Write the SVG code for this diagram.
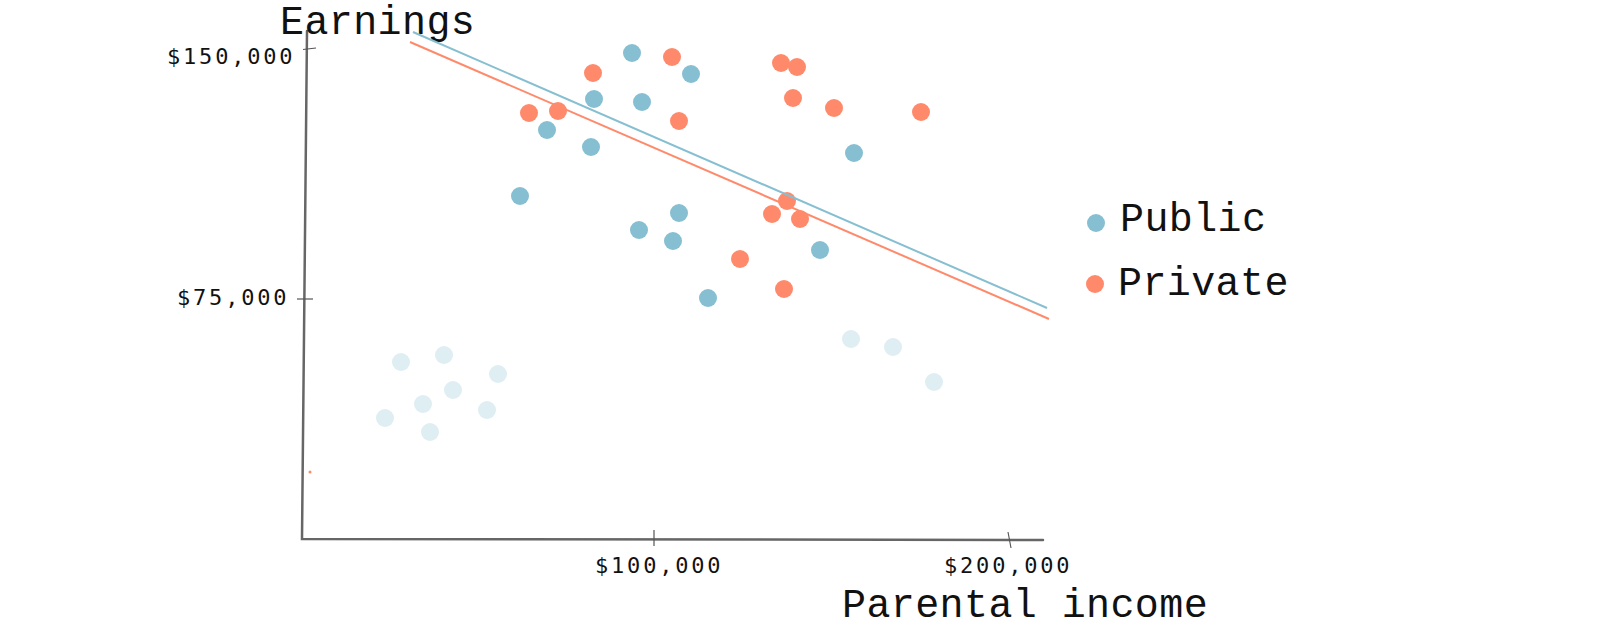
<svg xmlns="http://www.w3.org/2000/svg" width="1600" height="640" viewBox="0 0 1600 640">
<style>
.axis{stroke:#666;stroke-width:2.5;fill:none;stroke-linecap:round}
.tick{stroke:#555;stroke-width:1.2;fill:none}
.tl{font-family:"DejaVu Sans Mono",monospace;font-size:22px;letter-spacing:2.8px;fill:#111}
.title{font-family:"Nimbus Mono PS","Courier New","FreeMono","Courier","Liberation Mono",monospace;font-size:40px;letter-spacing:0.4px;fill:#111}
.pub{fill:#86bfd1}
.pri{fill:#ff8a6b}
.faint{fill:#dfeef3}
</style>
<rect width="1600" height="640" fill="#fff"/>
<g id="axes">
<path class="axis" d="M307,31 L302,539 L1043,540"/>
<path class="tick" d="M303,49.5 L316,48"/>
<path class="tick" d="M297,299 L313,299"/>
<path class="tick" d="M654,530 L654,546"/>
<path class="tick" d="M1008,532 L1011,548"/>
<text class="tl" x="167" y="64">$150,000</text>
<text class="tl" x="177" y="305">$75,000</text>
<text class="tl" x="595" y="573">$100,000</text>
<text class="tl" x="944" y="573">$200,000</text>
<text class="title" x="280" y="34">Earnings</text>
<text class="title" x="842" y="617">Parental income</text>
</g>
<g id="faint-points">
<circle class="faint" cx="401" cy="362" r="9"/>
<circle class="faint" cx="444" cy="355" r="9"/>
<circle class="faint" cx="498" cy="374" r="9"/>
<circle class="faint" cx="453" cy="390" r="9"/>
<circle class="faint" cx="423" cy="404" r="9"/>
<circle class="faint" cx="385" cy="418" r="9"/>
<circle class="faint" cx="487" cy="410" r="9"/>
<circle class="faint" cx="430" cy="432" r="9"/>
<circle class="faint" cx="851" cy="339" r="9"/>
<circle class="faint" cx="893" cy="347" r="9"/>
<circle class="faint" cx="934" cy="382" r="9"/>
</g>
<g id="public-points">
<circle class="pub" cx="632" cy="53" r="9"/>
<circle class="pub" cx="691" cy="74" r="9"/>
<circle class="pub" cx="594" cy="99" r="9"/>
<circle class="pub" cx="642" cy="102" r="9"/>
<circle class="pub" cx="547" cy="130" r="9"/>
<circle class="pub" cx="591" cy="147" r="9"/>
<circle class="pub" cx="520" cy="196" r="9"/>
<circle class="pub" cx="679" cy="213" r="9"/>
<circle class="pub" cx="639" cy="230" r="9"/>
<circle class="pub" cx="673" cy="241" r="9"/>
<circle class="pub" cx="820" cy="250" r="9"/>
<circle class="pub" cx="854" cy="153" r="9"/>
<circle class="pub" cx="708" cy="298" r="9"/>
</g>
<g id="private-points">
<circle class="pri" cx="672" cy="57" r="9"/>
<circle class="pri" cx="593" cy="73" r="9"/>
<circle class="pri" cx="781" cy="63" r="9"/>
<circle class="pri" cx="797" cy="67" r="9"/>
<circle class="pri" cx="793" cy="98" r="9"/>
<circle class="pri" cx="834" cy="108" r="9"/>
<circle class="pri" cx="921" cy="112" r="9"/>
<circle class="pri" cx="529" cy="113" r="9"/>
<circle class="pri" cx="558" cy="111" r="9"/>
<circle class="pri" cx="679" cy="121" r="9"/>
<circle class="pri" cx="787" cy="201" r="9"/>
<circle class="pri" cx="772" cy="214" r="9"/>
<circle class="pri" cx="800" cy="219" r="9"/>
<circle class="pri" cx="740" cy="259" r="9"/>
<circle class="pri" cx="784" cy="289" r="9"/>
<circle class="pri" cx="310" cy="472" r="1.5"/>
</g>
<g id="connectors">
<line x1="413" y1="32" x2="1047" y2="308" stroke="#86bfd1" stroke-width="2"/>
<line x1="410" y1="42" x2="1049" y2="319" stroke="#ff8a6b" stroke-width="2"/>
</g>
<g id="legend">
<circle class="pub" cx="1096" cy="223" r="9"/>
<text class="title" x="1120" y="231">Public</text>
<circle class="pri" cx="1095" cy="284" r="9"/>
<text class="title" x="1118" y="295">Private</text>
</g>
</svg>
